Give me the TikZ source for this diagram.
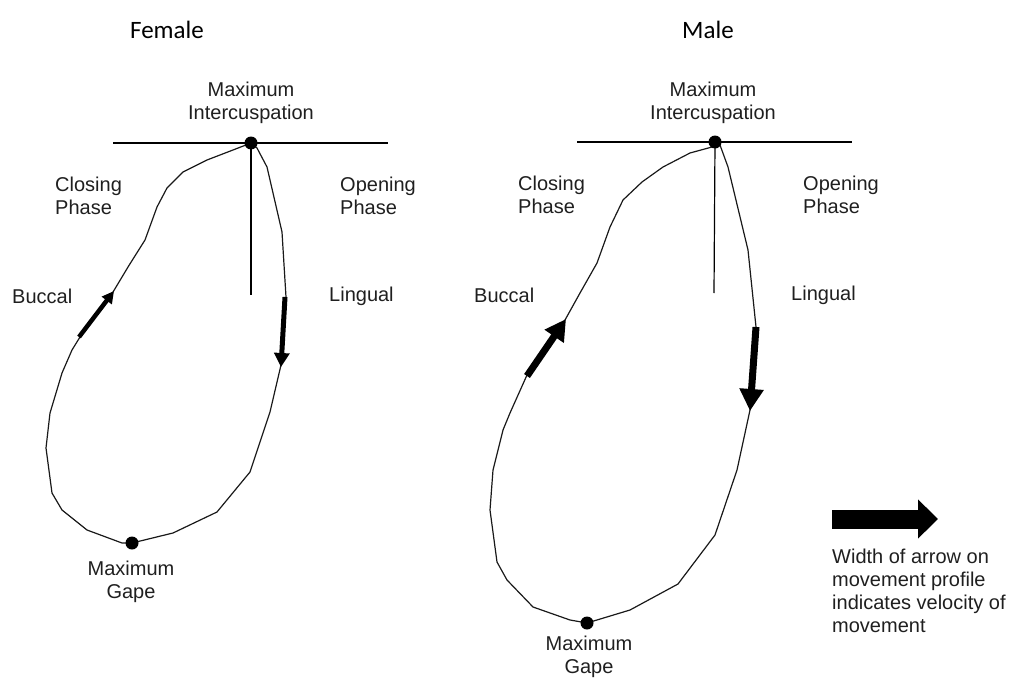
\documentclass[tikz,border=0pt]{standalone}
\usepackage{fontspec}
\setmainfont{Liberation Sans}
\newfontfamily\titlefont{Carlito}
\usetikzlibrary{arrows.meta}
\tikzset{
  lbl/.style={inner sep=0pt, font=\fontsize{20}{23}\selectfont, text=black!88},
  ttl/.style={inner sep=0pt, font=\titlefont\fontsize{25}{28}\selectfont},
  dot/.style={circle, fill=black, inner sep=0pt, minimum size=13pt},
  curve/.style={line width=1.2pt, line join=round, draw=black!90},
  axis/.style={line width=1.2pt},
  vel/.style={line cap=butt}
}
\begin{document}
\begin{tikzpicture}[x=1pt,y=-1pt]
\path[use as bounding box] (0,0) rectangle (1027,682);

% ---------- Female ----------
\node[ttl] (tF) at (167,30) {Female};
\coordinate (fL) at (113,143);
\coordinate (fR) at (388,143);
\coordinate (fV) at (251,295);
\draw[axis] (fL) -- (fR);
\draw[curve]
 (251,143) -- (257,148) -- (267,167) -- (282,232) -- (286,297) -- (281,365)
 -- (270,412) -- (250,472) -- (217,512) -- (173,533) -- (132,543) -- (122,543)
 -- (87,530) -- (62,510) -- (52,493) -- (46,448) -- (50,413) -- (62,373)
 -- (72,350) -- (80,337) -- (113,292) -- (128,267) -- (145,240) -- (157,207)
 -- (167,188) -- (183,172) -- (207,160) -- (233,150) -- cycle;
\node[dot] (fTop) at (251,143) {};
\draw[axis] (fTop.center) -- (fV);
\node[dot] (fGape) at (132,543) {};
\coordinate (fB1) at (79,337);
\coordinate (fB2) at (114,291);
\draw[vel, line width=4.5pt, -{Triangle[length=12pt,width=12pt]}] (fB1) -- (fB2);
\coordinate (fL1) at (285,297);
\coordinate (fL2) at (281,367);
\draw[vel, line width=5pt, -{Triangle[length=14pt,width=15pt]}] (fL1) -- (fL2);

\node[lbl, align=center] (fMI) at (251,103) {Maximum\\Intercuspation};
\node[lbl, align=left, anchor=west] (fCP) at (55,196) {Closing\\Phase};
\node[lbl, align=left, anchor=west] (fOP) at (340,196) {Opening\\Phase};
\node[lbl, anchor=west] (fBu) at (12,296) {Buccal};
\node[lbl, anchor=west] (fLi) at (329,296) {Lingual};
\node[lbl, align=center] (fMG) at (131,582) {Maximum\\Gape};

% ---------- Male ----------
\node[ttl] (tM) at (708,30) {Male};
\coordinate (mL) at (577,142);
\coordinate (mR) at (852,142);
\coordinate (mV) at (714,293);
\draw[axis] (mL) -- (mR);
\draw[curve]
 (715,142) -- (720,145) -- (728,167) -- (748,250) -- (756,327) -- (750,410)
 -- (737,470) -- (715,535) -- (678,584) -- (630,610) -- (587,623) -- (570,620)
 -- (533,607) -- (507,580) -- (497,562) -- (490,510) -- (493,470) -- (503,430)
 -- (510,413) -- (527,375) -- (565,320) -- (580,293) -- (597,263) -- (610,227)
 -- (623,200) -- (642,182) -- (663,167) -- (690,153) -- (712,147) -- cycle;
\node[dot] (mTop) at (715,142) {};
\draw[axis] (mTop.center) -- (mV);
\node[dot] (mGape) at (587,623) {};
\coordinate (mB1) at (527,376);
\coordinate (mB2) at (566,319);
\draw[vel, line width=7pt, -{Triangle[length=21pt,width=22pt]}] (mB1) -- (mB2);
\coordinate (mL1) at (756,327);
\coordinate (mL2) at (750,411);
\draw[vel, line width=7pt, -{Triangle[length=22pt,width=23pt]}] (mL1) -- (mL2);

\node[lbl, align=center] (mMI) at (713,103) {Maximum\\Intercuspation};
\node[lbl, align=left, anchor=west] (mCP) at (518,195) {Closing\\Phase};
\node[lbl, align=left, anchor=west] (mOP) at (803,195) {Opening\\Phase};
\node[lbl, anchor=west] (mBu) at (474,295) {Buccal};
\node[lbl, anchor=west] (mLi) at (791,295) {Lingual};
\node[lbl, align=center] (mMG) at (589,657) {Maximum\\Gape};

% ---------- Legend ----------
\coordinate (k1) at (832,519);
\coordinate (k2) at (938,519);
\draw[vel, line width=19pt, -{Triangle[length=20pt,width=38pt]}] (k1) -- (k2);
\node[lbl, align=left, anchor=north west] (kT) at (832,549)
 {Width of arrow on\\movement profile\\indicates velocity of\\movement};
\end{tikzpicture}
\end{document}
